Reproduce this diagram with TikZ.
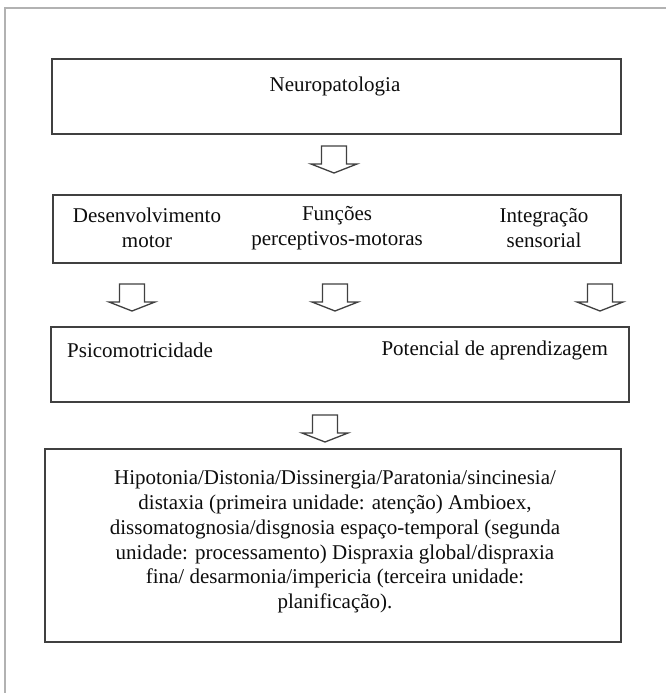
\documentclass[tikz,border=0pt]{standalone}
\usepackage{fontspec}
\setmainfont{Liberation Serif}
\tikzset{
  frame/.style = {draw = black!75, line width = 1.8pt, inner sep = 0pt},
  label text/.style = {font = \fontsize{21}{24.7}\selectfont, text = black!95, inner sep = 0pt},
  hollow arrow/.pic = {
    \draw[line width = 1.3pt, black!75, fill = white, line join = miter]
      (-12.5, 0) -- (12.5, 0) -- (12.5, 18) -- (23, 18) -- (0, 27) -- (-23, 18) -- (-12.5, 18) -- cycle;
  }
}
\begin{document}
\begin{tikzpicture}[x = 1pt, y = -1pt]
        \useasboundingbox[fill = white] (0, 0) rectangle (666, 693);
        % page frame
        \draw[black!30, line width = 2pt] (5, 693) -- (5, 8) -- (666, 8);
        % boxes
        \node[frame, minimum width = 569pt, minimum height = 75pt] (neuro) at (336.5, 96.5) {};
        \node[frame, minimum width = 568pt, minimum height = 68pt] (funcoes) at (337, 229) {};
        \node[frame, minimum width = 578pt, minimum height = 75pt] (psico) at (340, 364.5) {};
        \node[frame, minimum width = 576pt, minimum height = 193pt] (sinais) at (333, 545.5) {};
        % texts
        \node[label text] (neurotxt) at (335, 86) {Neuropatologia};
        \node[label text, align = center] (desenv) at (147, 228) {Desenvolvimento\\motor};
        \node[label text, align = center] (percep) at (337, 228) {Funções\\perceptivos-motoras};
        \node[label text, align = center] (integ) at (544, 228) {Integração\\sensorial};
        \node[label text, anchor = west] (psicotxt) at (67, 350) {Psicomotricidade};
        \node[label text, anchor = east] (potencial) at (608, 350) {Potencial de aprendizagem};
        \node[label text, align = center] (sinaistxt) at (335, 542) {Hipotonia/Distonia/Dissinergia/Paratonia/sincinesia/\\distaxia (primeira unidade: atenção) Ambioex,\\dissomatognosia/disgnosia espaço-temporal (segunda\\unidade: processamento) Dispraxia global/dispraxia\\fina/ desarmonia/impericia (terceira unidade:\\planificação).};
        % block arrows
        \pic at (334, 146) {hollow arrow};
        \foreach \ax in {132, 335, 600}
            \pic at (\ax, 284) {hollow arrow};
        \pic at (325, 415) {hollow arrow};
    \end{tikzpicture}
\end{document}
